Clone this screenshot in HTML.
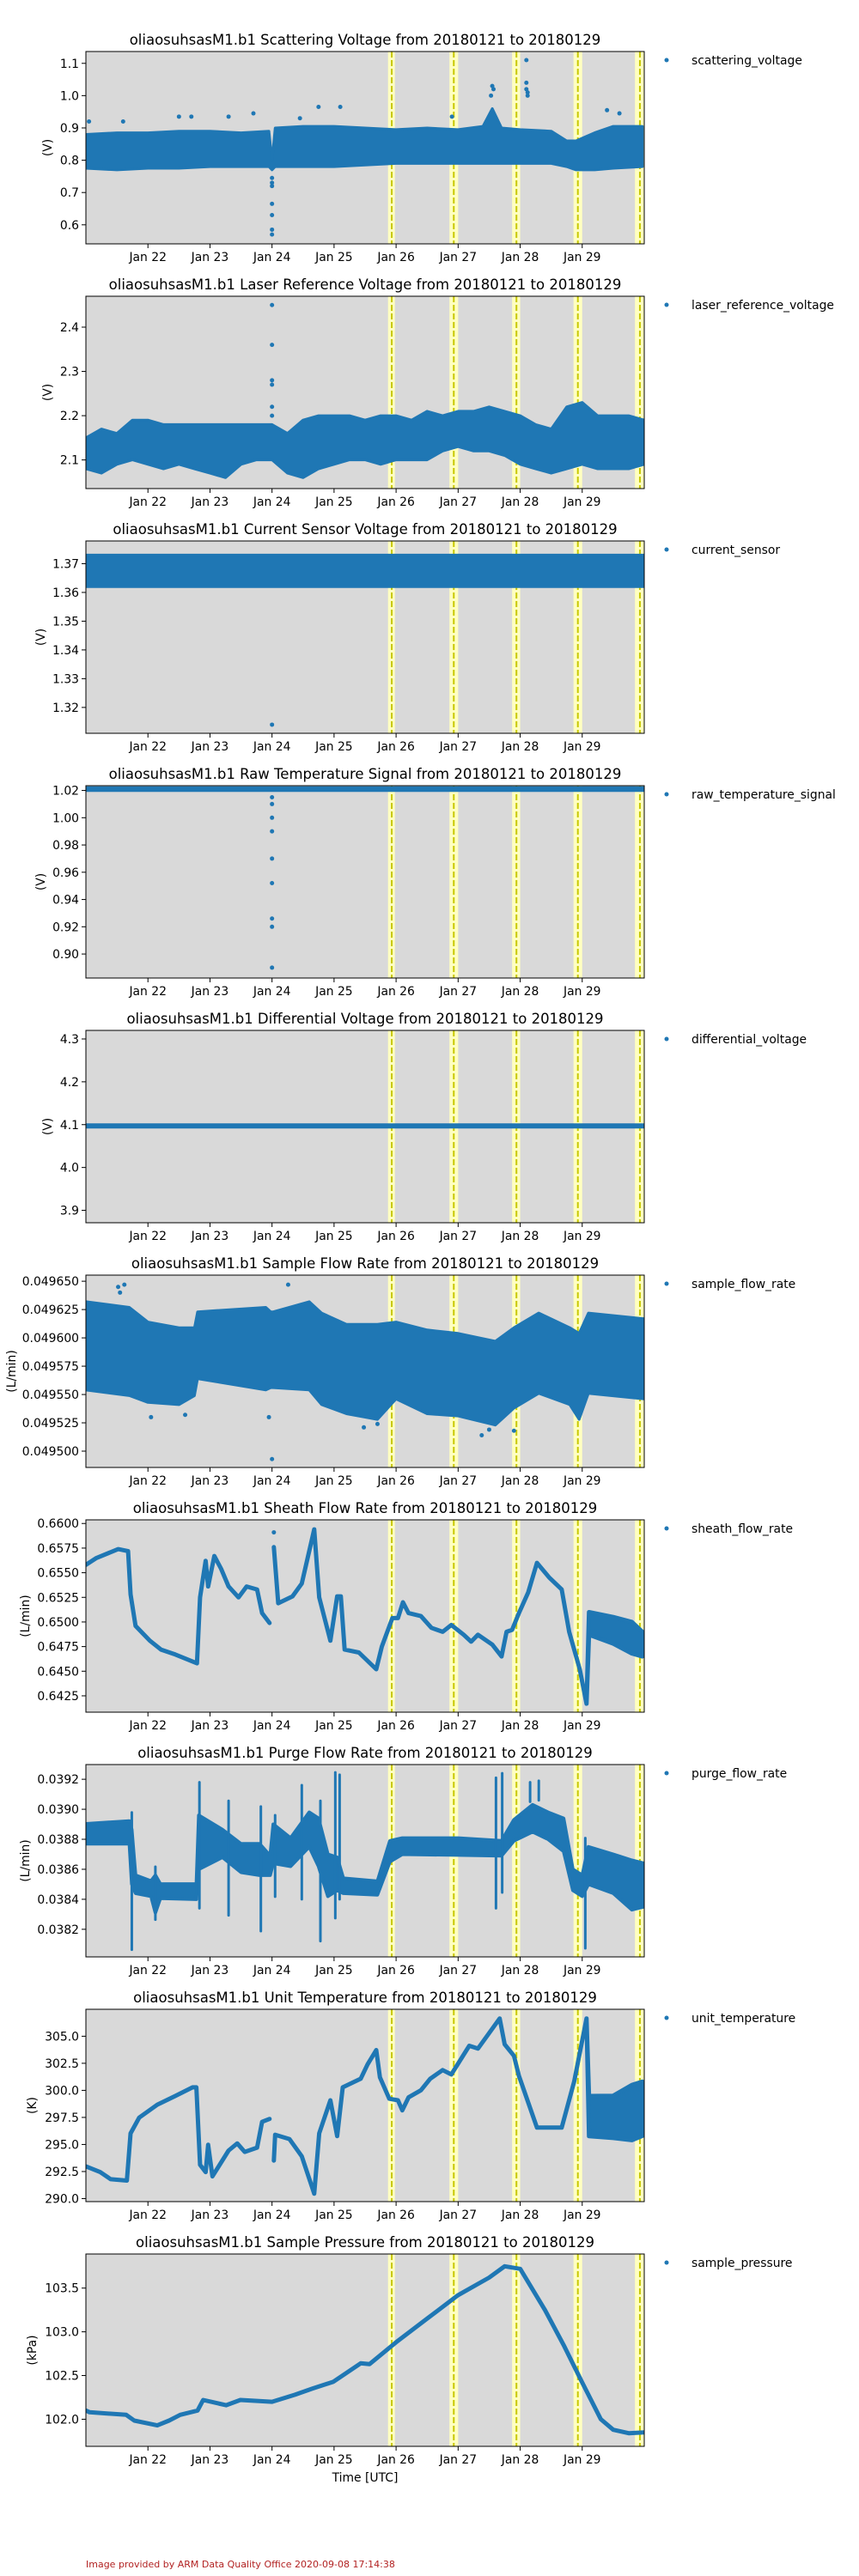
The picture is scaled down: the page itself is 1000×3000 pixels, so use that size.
<!DOCTYPE html>
<html><head><meta charset="utf-8"><title>oliaosuhsasM1.b1 QC plots</title>
<style>
html,body{margin:0;padding:0;background:#fff;}
svg{display:block;font-family:"DejaVu Sans","Liberation Sans",sans-serif;}
</style></head>
<body>
<svg id="fig" xmlns="http://www.w3.org/2000/svg" width="1000" height="3000" viewBox="0 0 1000 3000">
<rect x="0" y="0" width="1000" height="3000" fill="#fff"/>
<text x="425" y="2890" text-anchor="middle" font-size="13.9" fill="#000">Time [UTC]</text>
<text x="100" y="2990" font-size="11" fill="#b22222">Image provided by ARM Data Quality Office 2020-09-08 17:14:38</text>
</svg>
<script>
// ---- shared x-axis data ----
const xTickDays = [1,2,3,4,5,6,7,8];
const xTickLabels = ["Jan 22","Jan 23","Jan 24","Jan 25","Jan 26","Jan 27","Jan 28","Jan 29"];
const flagStart = [4.87,5.86,6.87,7.86,8.85];
const flagEnd   = [4.98,6.00,7.00,8.00,9.00];
const flagLine  = [4.93,5.93,6.94,7.93,8.93];

// ---- panel 1: scattering voltage ----
const p1Days = [0,0.5,1,1.5,2,2.5,2.95,3.0,3.05,3.5,4,4.5,5,5.5,6,6.4,6.55,6.7,7,7.5,7.75,7.9,8.2,8.5,8.97];
const p1Hi = [0.88,0.885,0.885,0.89,0.89,0.885,0.89,0.80,0.90,0.905,0.905,0.90,0.895,0.90,0.895,0.905,0.96,0.90,0.895,0.89,0.86,0.86,0.885,0.905,0.905];
const p1Lo = [0.775,0.77,0.775,0.775,0.78,0.78,0.78,0.77,0.78,0.78,0.78,0.785,0.79,0.79,0.79,0.79,0.79,0.79,0.79,0.79,0.78,0.77,0.77,0.775,0.78];
const p1OutD = [3.0,3.0,3.0,3.0,3.0,3.0,3.0,7.1,7.1,7.1,7.12,7.12,6.55,6.57,6.53,3.75,4.1,0.05,0.6,1.5,1.7,2.3,2.7,3.45,5.9,8.4,8.6];
const p1OutV = [0.57,0.585,0.63,0.665,0.72,0.73,0.745,1.11,1.04,1.02,1.01,1.0,1.03,1.02,1.0,0.965,0.965,0.92,0.92,0.935,0.935,0.935,0.945,0.93,0.935,0.955,0.945];
const p1Ticks = [0.6,0.7,0.8,0.9,1.0,1.1];

// ---- panel 2: laser reference voltage ----
const p2Days = [0,0.25,0.5,0.75,1,1.25,1.5,1.75,2,2.25,2.5,2.75,3,3.25,3.5,3.75,4,4.25,4.5,4.75,5,5.25,5.5,5.75,6,6.25,6.5,6.75,7,7.25,7.5,7.75,8,8.25,8.5,8.75,9];
const p2Hi = [2.15,2.17,2.16,2.19,2.19,2.18,2.18,2.18,2.18,2.18,2.18,2.18,2.18,2.16,2.19,2.20,2.20,2.20,2.19,2.20,2.20,2.19,2.21,2.20,2.21,2.21,2.22,2.21,2.20,2.18,2.17,2.22,2.23,2.20,2.20,2.20,2.19];
const p2Lo = [2.08,2.07,2.09,2.10,2.09,2.08,2.09,2.08,2.07,2.06,2.09,2.10,2.10,2.07,2.06,2.08,2.09,2.10,2.10,2.09,2.10,2.10,2.10,2.12,2.13,2.12,2.12,2.11,2.09,2.08,2.07,2.08,2.09,2.08,2.08,2.08,2.09];
const p2OutD = [3.0,3.0,3.0,3.0,3.0,3.0];
const p2OutV = [2.45,2.36,2.28,2.27,2.22,2.20];
const p2Ticks = [2.1,2.2,2.3,2.4];

// ---- panel 3: current sensor ----
const p3Days = [0,3,6,9];
const p3Hi = [1.373,1.373,1.373,1.373];
const p3Lo = [1.362,1.362,1.362,1.362];
const p3OutD = [3.0];
const p3OutV = [1.314];
const p3Ticks = [1.32,1.33,1.34,1.35,1.36,1.37];

// ---- panel 4: raw temperature signal ----
const p4Days = [0,9];
const p4Hi = [1.0215,1.0215];
const p4Lo = [1.0205,1.0205];
const p4OutD = [3.0,3.0,3.0,3.0,3.0,3.0,3.0,3.0,3.0];
const p4OutV = [1.015,1.01,1.0,0.99,0.97,0.952,0.926,0.92,0.89];
const p4Ticks = [0.90,0.92,0.94,0.96,0.98,1.00,1.02];

// ---- panel 5: differential voltage ----
const p5Days = [0,9];
const p5Hi = [4.098,4.098];
const p5Lo = [4.096,4.096];
const p5OutD = [];
const p5OutV = [];
const p5Ticks = [3.9,4.0,4.1,4.2,4.3];

// ---- panel 6: sample flow rate ----
const p6Days = [0,0.7,1.0,1.5,1.75,1.8,2.9,2.98,3.02,3.6,3.8,4.2,4.7,5.0,5.5,6.0,6.6,6.9,7.3,7.8,7.95,8.1,9.0];
const p6Hi = [0.049632,0.049627,0.049614,0.049609,0.049609,0.049623,0.049627,0.049623,0.049623,0.049632,0.049622,0.049612,0.049612,0.049614,0.049607,0.049604,0.049597,0.049609,0.049622,0.049609,0.049604,0.049622,0.049617];
const p6Lo = [0.049554,0.049549,0.049543,0.049541,0.049549,0.049564,0.049554,0.049556,0.049556,0.049554,0.049541,0.049533,0.049528,0.049546,0.049533,0.049531,0.049523,0.049538,0.049551,0.049541,0.049528,0.049551,0.049546];
const p6OutD = [0.52,0.62,0.55,3.26,3.0,1.6,4.48,6.38,6.5,4.7,1.05,2.95,6.9];
const p6OutV = [0.049645,0.049647,0.049640,0.049647,0.049493,0.049532,0.049521,0.049514,0.049519,0.049524,0.049530,0.049530,0.049518];
const p6Ticks = [0.049500,0.049525,0.049550,0.049575,0.049600,0.049625,0.049650];

// ---- panel 7: sheath flow rate ----
const p7Days = [0,0.17,0.52,0.68,0.72,0.80,1.03,1.21,1.44,1.79,1.84,1.93,1.97,2.07,2.18,2.30,2.46,2.59,2.76,2.84,2.96,null,3.03,3.10,3.33,3.48,3.68,3.76,3.94,4.05,4.11,4.17,4.40,4.68,4.77,4.94,5.03,5.11,5.20,5.40,5.57,5.75,5.89,6.09,6.21,6.32,6.55,6.70,6.78,6.87,6.98,7.13,7.27,7.47,7.67,7.79,7.96,8.07,8.11,8.5,8.8,8.97];
const p7Hi = [0.6558,0.6565,0.6574,0.6572,0.6528,0.6496,0.6481,0.6472,0.6467,0.6458,0.6525,0.6562,0.6536,0.6567,0.6554,0.6536,0.6525,0.6536,0.6533,0.6509,0.6499,null,0.6576,0.6519,0.6526,0.6539,0.6594,0.6525,0.6481,0.6526,0.6526,0.6472,0.6469,0.6452,0.6475,0.6504,0.6504,0.6520,0.6509,0.6506,0.6494,0.6490,0.6497,0.6487,0.6480,0.6487,0.6477,0.6465,0.6490,0.6492,0.6509,0.6530,0.6560,0.6545,0.6533,0.6490,0.6452,0.6417,0.6510,0.6505,0.6500,0.6490];
const p7Lo = [0.6558,0.6565,0.6574,0.6572,0.6528,0.6496,0.6481,0.6472,0.6467,0.6458,0.6525,0.6562,0.6536,0.6567,0.6554,0.6536,0.6525,0.6536,0.6533,0.6509,0.6499,null,0.6576,0.6519,0.6526,0.6539,0.6594,0.6525,0.6481,0.6526,0.6526,0.6472,0.6469,0.6452,0.6475,0.6504,0.6504,0.6520,0.6509,0.6506,0.6494,0.6490,0.6497,0.6487,0.6480,0.6487,0.6477,0.6465,0.6490,0.6492,0.6509,0.6530,0.6560,0.6545,0.6533,0.6490,0.6452,0.6417,0.6487,0.6478,0.6468,0.6465];
const p7OutD = [3.03];
const p7OutV = [0.6591];
const p7Ticks = [0.6425,0.6450,0.6475,0.6500,0.6525,0.6550,0.6575,0.6600];

// ---- panel 8: purge flow rate ----
const p8Days = [0,0.7,0.74,0.8,1.05,1.12,1.2,1.78,1.82,2.2,2.5,2.8,2.97,3.02,3.3,3.6,3.75,3.9,4.05,4.15,4.7,4.9,5.1,6.0,6.7,6.9,7.2,7.45,7.7,7.85,8.0,8.1,8.5,8.8,9.0];
const p8Hi = [0.038903,0.038922,0.038865,0.038560,0.038522,0.038560,0.038502,0.038502,0.038960,0.038865,0.038770,0.038770,0.038690,0.038900,0.038808,0.038980,0.038940,0.038700,0.038680,0.038540,0.038520,0.038790,0.038808,0.038808,0.038790,0.038930,0.039030,0.038980,0.038940,0.038600,0.038560,0.038750,0.038700,0.038660,0.038640];
const p8Lo = [0.038770,0.038770,0.038502,0.038440,0.038420,0.038310,0.038407,0.038400,0.038600,0.038680,0.038580,0.038560,0.038560,0.038640,0.038620,0.038750,0.038620,0.038420,0.038460,0.038440,0.038430,0.038650,0.038700,0.038695,0.038690,0.038790,0.038850,0.038800,0.038720,0.038460,0.038420,0.038500,0.038440,0.038330,0.038350];
const p8SpikeD = [0.74,1.12,1.83,2.30,2.82,3.05,3.48,3.78,4.02,4.09,6.61,6.71,7.16,7.30,8.05];
const p8SpikeLo = [0.038064,0.038264,0.038340,0.038293,0.038188,0.038417,0.038400,0.038121,0.038274,0.038400,0.038340,0.038445,0.039050,0.039060,0.038073];
const p8SpikeHi = [0.038979,0.038617,0.039180,0.039056,0.039018,0.038960,0.039161,0.039056,0.039246,0.039230,0.039210,0.039240,0.039180,0.039190,0.038808];
const p8OutD = [];
const p8OutV = [];
const p8Ticks = [0.0382,0.0384,0.0386,0.0388,0.0390,0.0392];

// ---- panel 9: unit temperature ----
const p9Days = [0,0.23,0.40,0.66,0.72,0.86,1.15,1.44,1.72,1.78,1.84,1.93,1.97,2.04,2.30,2.44,2.56,2.76,2.84,2.96,null,3.03,3.05,3.28,3.48,3.68,3.76,3.94,4.05,4.14,4.43,4.54,4.68,4.74,4.89,5.03,5.10,5.20,5.40,5.55,5.75,5.89,6.18,6.32,6.67,6.75,6.90,6.98,7.27,7.67,7.87,8.07,8.11,8.5,8.8,8.97];
const p9Hi = [292.98,292.45,291.79,291.66,296.03,297.49,298.68,299.48,300.28,300.28,293.12,292.45,294.97,292.05,294.44,295.10,294.31,294.71,297.09,297.36,null,293.51,295.90,295.50,293.91,290.46,296.03,299.08,295.77,300.28,301.07,302.40,303.72,301.20,299.22,299.08,298.15,299.35,300.01,301.07,301.87,301.47,304.12,303.86,306.64,304.25,303.19,301.34,296.56,296.56,300.81,306.64,299.48,299.5,300.5,300.8];
const p9Lo = [292.98,292.45,291.79,291.66,296.03,297.49,298.68,299.48,300.28,300.28,293.12,292.45,294.97,292.05,294.44,295.10,294.31,294.71,297.09,297.36,null,293.51,295.90,295.50,293.91,290.46,296.03,299.08,295.77,300.28,301.07,302.40,303.72,301.20,299.22,299.08,298.15,299.35,300.01,301.07,301.87,301.47,304.12,303.86,306.64,304.25,303.19,301.34,296.56,296.56,300.81,306.64,295.77,295.6,295.4,295.8];
const p9OutD = [];
const p9OutV = [];
const p9Ticks = [290.0,292.5,295.0,297.5,300.0,302.5,305.0];

// ---- panel 10: sample pressure ----
const p10Days = [0,0.06,0.65,0.78,1.15,1.34,1.52,1.80,1.89,2.26,2.49,3.0,3.37,3.65,3.99,4.43,4.57,5.0,5.5,6.0,6.5,6.75,7.0,7.4,7.7,8.0,8.3,8.5,8.75,9];
const p10Val = [102.10,102.08,102.05,101.985,101.93,101.985,102.05,102.10,102.22,102.16,102.22,102.20,102.28,102.35,102.43,102.64,102.63,102.88,103.15,103.42,103.62,103.75,103.72,103.25,102.85,102.42,102.0,101.88,101.84,101.85];
const p10OutD = [];
const p10OutV = [];
const p10Ticks = [102.0,102.5,103.0,103.5];

// ---- panel layout config (styles, not data) ----
const panels = [
 {title:"oliaosuhsasM1.b1 Scattering Voltage from 20180121 to 20180129", yl:"(V)", ylx:56, y0:0.541, y1:1.1366, dec:1, ticks:p1Ticks, days:p1Days, hi:p1Hi, lo:p1Lo, od:p1OutD, ov:p1OutV, sw:3, leg:"scattering_voltage", key:"scattering-voltage"},
 {title:"oliaosuhsasM1.b1 Laser Reference Voltage from 20180121 to 20180129", yl:"(V)", ylx:56, y0:2.0353, y1:2.4698, dec:1, ticks:p2Ticks, days:p2Days, hi:p2Hi, lo:p2Lo, od:p2OutD, ov:p2OutV, sw:3, leg:"laser_reference_voltage", key:"laser-reference-voltage"},
 {title:"oliaosuhsasM1.b1 Current Sensor Voltage from 20180121 to 20180129", yl:"(V)", ylx:48, y0:1.311, y1:1.3779, dec:2, ticks:p3Ticks, days:p3Days, hi:p3Hi, lo:p3Lo, od:p3OutD, ov:p3OutV, sw:3, leg:"current_sensor", key:"current-sensor"},
 {title:"oliaosuhsasM1.b1 Raw Temperature Signal from 20180121 to 20180129", yl:"(V)", ylx:48, y0:0.8824, y1:1.0235, dec:2, ticks:p4Ticks, days:p4Days, hi:p4Hi, lo:p4Lo, od:p4OutD, ov:p4OutV, sw:5, leg:"raw_temperature_signal", key:"raw-temperature-signal"},
 {title:"oliaosuhsasM1.b1 Differential Voltage from 20180121 to 20180129", yl:"(V)", ylx:56, y0:3.871, y1:4.320, dec:1, ticks:p5Ticks, days:p5Days, hi:p5Hi, lo:p5Lo, od:p5OutD, ov:p5OutV, sw:5, leg:"differential_voltage", key:"differential-voltage"},
 {title:"oliaosuhsasM1.b1 Sample Flow Rate from 20180121 to 20180129", yl:"(L/min)", ylx:14, y0:0.0494856, y1:0.0496554, dec:6, ticks:p6Ticks, days:p6Days, hi:p6Hi, lo:p6Lo, od:p6OutD, ov:p6OutV, sw:3, leg:"sample_flow_rate", key:"sample-flow-rate"},
 {title:"oliaosuhsasM1.b1 Sheath Flow Rate from 20180121 to 20180129", yl:"(L/min)", ylx:30, y0:0.64084, y1:0.66037, dec:4, ticks:p7Ticks, days:p7Days, hi:p7Hi, lo:p7Lo, od:p7OutD, ov:p7OutV, sw:5, leg:"sheath_flow_rate", key:"sheath-flow-rate"},
 {title:"oliaosuhsasM1.b1 Purge Flow Rate from 20180121 to 20180129", yl:"(L/min)", ylx:30, y0:0.038016, y1:0.039298, dec:4, ticks:p8Ticks, days:p8Days, hi:p8Hi, lo:p8Lo, od:p8OutD, ov:p8OutV, sw:4, leg:"purge_flow_rate", key:"purge-flow-rate", sd:p8SpikeD, slo:p8SpikeLo, shi:p8SpikeHi},
 {title:"oliaosuhsasM1.b1 Unit Temperature from 20180121 to 20180129", yl:"(K)", ylx:38, y0:289.72, y1:307.49, dec:1, ticks:p9Ticks, days:p9Days, hi:p9Hi, lo:p9Lo, od:p9OutD, ov:p9OutV, sw:5, leg:"unit_temperature", key:"unit-temperature"},
 {title:"oliaosuhsasM1.b1 Sample Pressure from 20180121 to 20180129", yl:"(kPa)", ylx:38, y0:101.69, y1:103.89, dec:1, ticks:p10Ticks, days:p10Days, hi:p10Val, lo:p10Val, od:p10OutD, ov:p10OutV, sw:5, leg:"sample_pressure", key:"sample-pressure"}
];

const NS = "http://www.w3.org/2000/svg";
const svg = document.getElementById("fig");
const X0 = 100, X1 = 750, PH = 224, PITCH = 285, BLUE = "#1f77b4";
function xs(d){ return X0 + d * (X1 - X0) / 9; }
function mk(tag, attrs, parent){
  const e = document.createElementNS(NS, tag);
  for (const k in attrs) e.setAttribute(k, attrs[k]);
  (parent || svg).appendChild(e);
  return e;
}

panels.forEach(function(p, i){
  const top = 60 + PITCH * i, bot = top + PH;
  function ys(v){ return bot - (v - p.y0) / (p.y1 - p.y0) * PH; }
  const g = mk("g", {});
  
  

  const clipId = "clip" + i;
  const cp = mk("clipPath", {id: clipId}, g);
  mk("rect", {x: X0, y: top, width: X1 - X0, height: PH}, cp);

  const bg = mk("rect", {x: X0, y: top, width: X1 - X0, height: PH, fill: "#d9d9d9"}, g);
  
  

  flagStart.forEach(function(s, k){
    const r = mk("rect", {x: xs(s), y: top, width: xs(flagEnd[k]) - xs(s), height: PH, fill: "#ffffc0"}, g);
    
    
    const l = mk("line", {x1: xs(flagLine[k]), x2: xs(flagLine[k]), y1: top, y2: bot, stroke: "#c8c800", "stroke-width": 2, "stroke-dasharray": "7,3"}, g);
    
    
  });

  const dg = mk("g", {"clip-path": "url(#" + clipId + ")"}, g);
  
  

  let segs = [], cur = [];
  p.days.forEach(function(d, k){
    if (d === null || p.hi[k] === null) { if (cur.length) segs.push(cur); cur = []; }
    else cur.push(k);
  });
  if (cur.length) segs.push(cur);
  segs.forEach(function(idx){
    let dstr = "";
    idx.forEach(function(k, n){ dstr += (n ? "L" : "M") + xs(p.days[k]).toFixed(1) + "," + ys(p.hi[k]).toFixed(1); });
    for (let n = idx.length - 1; n >= 0; n--) { const k = idx[n]; dstr += "L" + xs(p.days[k]).toFixed(1) + "," + ys(p.lo[k]).toFixed(1); }
    dstr += "Z";
    const path = mk("path", {d: dstr, fill: BLUE, stroke: BLUE, "stroke-width": p.sw, "stroke-linejoin": "round"}, dg);
    
    
  });

  if (p.sd) {
    p.sd.forEach(function(d, k){
      const s = mk("line", {x1: xs(d), x2: xs(d), y1: ys(p.slo[k]), y2: ys(p.shi[k]), stroke: BLUE, "stroke-width": 3, "stroke-linecap": "round"}, dg);
      
      
    });
  }
  p.od.forEach(function(d, k){
    const c = mk("circle", {cx: xs(d), cy: ys(p.ov[k]), r: 2.5, fill: BLUE}, dg);
    
    
  });

  const fr = mk("rect", {x: X0, y: top, width: X1 - X0, height: PH, fill: "none", stroke: "#000", "stroke-width": 1}, g);
  
  

  xTickDays.forEach(function(d, k){
    const t = mk("line", {x1: xs(d), x2: xs(d), y1: bot, y2: bot + 5, stroke: "#000", "stroke-width": 1}, g);
    
    
    const tl = mk("text", {x: xs(d), y: bot + 20, "text-anchor": "middle", "font-size": 13.9, fill: "#000"}, g);
    tl.textContent = xTickLabels[k];
    
    
  });
  p.ticks.forEach(function(v){
    const y = ys(v);
    const t = mk("line", {x1: X0 - 5, x2: X0, y1: y, y2: y, stroke: "#000", "stroke-width": 1}, g);
    
    
    const tl = mk("text", {x: X0 - 8, y: y + 5, "text-anchor": "end", "font-size": 13.9, fill: "#000"}, g);
    tl.textContent = v.toFixed(p.dec);
    
    
  });
  const yl = mk("text", {x: p.ylx, y: (top + bot) / 2, "text-anchor": "middle", "font-size": 13.9, fill: "#000", transform: "rotate(-90 " + p.ylx + " " + ((top + bot) / 2) + ")", "dominant-baseline": "middle"}, g);
  yl.textContent = p.yl;
  
  

  const tt = mk("text", {x: (X0 + X1) / 2, y: top - 8, "text-anchor": "middle", "font-size": 16.5, fill: "#000"}, g);
  tt.textContent = p.title;
  
  

  const lg = mk("g", {}, g);
  
  
  mk("circle", {cx: 776, cy: top + 10, r: 2.5, fill: BLUE}, lg);
  const lt = mk("text", {x: 805, y: top + 15, "font-size": 13.9, fill: "#000"}, lg);
  lt.textContent = p.leg;
  
  
});
</script>
</body></html>
